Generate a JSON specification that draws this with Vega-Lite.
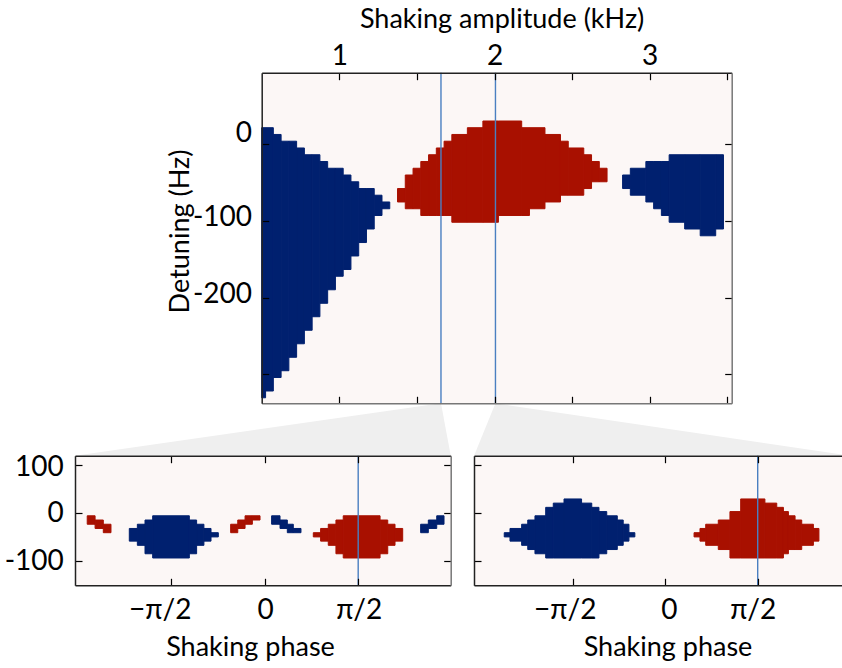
{
  "$schema": "https://vega.github.io/schema/vega-lite/v6.json",
  "width": 842,
  "height": 668,
  "autosize": {"type": "none"},
  "padding": 0,
  "background": "white",
  "config": {
    "view": {"stroke": null},
    "font": "Lato",
    "axis": {
      "grid": false,
      "labelFlush": false,
      "labelOverlap": false,
      "labelFont": "Lato",
      "titleFont": "Lato",
      "labelFontSize": 28,
      "titleFontSize": 27,
      "titleFontWeight": "normal",
      "labelColor": "#000",
      "titleColor": "#000",
      "tickColor": "#000",
      "tickWidth": 1.2,
      "domainWidth": 1.5
    }
  },
  "datasets": {
    "conn": [
      {"t": "a", "x": -0.703, "y": -405.9, "y2": -405.9},
      {"t": "a", "x": 1.655, "y": -337.6, "y2": -405.9},
      {"t": "a", "x": 1.718, "y": -405.9, "y2": -405.9},
      {"t": "b", "x": 1.868, "y": -405.9, "y2": -405.9},
      {"t": "b", "x": 2.006, "y": -337.6, "y2": -405.9},
      {"t": "b", "x": 4.289, "y": -405.9, "y2": -405.9}
    ],
    "main": [
      {"x0": 0.5, "x1": 0.525, "y0": -330.4, "y1": 21.2, "s": "blue"},
      {"x0": 0.525, "x1": 0.575, "y0": -321.6, "y1": 21.2, "s": "blue"},
      {"x0": 0.575, "x1": 0.625, "y0": -304.0, "y1": 12.4, "s": "blue"},
      {"x0": 0.625, "x1": 0.675, "y0": -295.2, "y1": 3.6, "s": "blue"},
      {"x0": 0.675, "x1": 0.725, "y0": -277.7, "y1": 3.6, "s": "blue"},
      {"x0": 0.725, "x1": 0.775, "y0": -260.1, "y1": -5.2, "s": "blue"},
      {"x0": 0.775, "x1": 0.825, "y0": -242.5, "y1": -14.0, "s": "blue"},
      {"x0": 0.825, "x1": 0.875, "y0": -224.9, "y1": -14.0, "s": "blue"},
      {"x0": 0.875, "x1": 0.925, "y0": -207.4, "y1": -22.8, "s": "blue"},
      {"x0": 0.925, "x1": 0.975, "y0": -189.8, "y1": -31.6, "s": "blue"},
      {"x0": 0.975, "x1": 1.025, "y0": -172.2, "y1": -31.6, "s": "blue"},
      {"x0": 1.025, "x1": 1.075, "y0": -163.4, "y1": -40.4, "s": "blue"},
      {"x0": 1.075, "x1": 1.125, "y0": -145.8, "y1": -49.2, "s": "blue"},
      {"x0": 1.125, "x1": 1.175, "y0": -128.3, "y1": -58.0, "s": "blue"},
      {"x0": 1.175, "x1": 1.225, "y0": -110.7, "y1": -58.0, "s": "blue"},
      {"x0": 1.225, "x1": 1.275, "y0": -93.1, "y1": -66.7, "s": "blue"},
      {"x0": 1.275, "x1": 1.325, "y0": -84.3, "y1": -75.5, "s": "blue"},
      {"x0": 1.375, "x1": 1.425, "y0": -75.5, "y1": -58.0, "s": "red"},
      {"x0": 1.425, "x1": 1.475, "y0": -84.3, "y1": -40.4, "s": "red"},
      {"x0": 1.475, "x1": 1.525, "y0": -84.3, "y1": -31.6, "s": "red"},
      {"x0": 1.525, "x1": 1.575, "y0": -93.1, "y1": -22.8, "s": "red"},
      {"x0": 1.575, "x1": 1.625, "y0": -93.1, "y1": -14.0, "s": "red"},
      {"x0": 1.625, "x1": 1.675, "y0": -93.1, "y1": -5.2, "s": "red"},
      {"x0": 1.675, "x1": 1.725, "y0": -93.1, "y1": 3.6, "s": "red"},
      {"x0": 1.725, "x1": 1.825, "y0": -101.9, "y1": 12.4, "s": "red"},
      {"x0": 1.825, "x1": 1.925, "y0": -101.9, "y1": 21.2, "s": "red"},
      {"x0": 1.925, "x1": 2.025, "y0": -101.9, "y1": 29.9, "s": "red"},
      {"x0": 2.025, "x1": 2.175, "y0": -93.1, "y1": 29.9, "s": "red"},
      {"x0": 2.175, "x1": 2.225, "y0": -93.1, "y1": 21.2, "s": "red"},
      {"x0": 2.225, "x1": 2.325, "y0": -84.3, "y1": 21.2, "s": "red"},
      {"x0": 2.325, "x1": 2.425, "y0": -75.5, "y1": 12.4, "s": "red"},
      {"x0": 2.425, "x1": 2.475, "y0": -66.7, "y1": 3.6, "s": "red"},
      {"x0": 2.475, "x1": 2.575, "y0": -66.7, "y1": -5.2, "s": "red"},
      {"x0": 2.575, "x1": 2.625, "y0": -58.0, "y1": -14.0, "s": "red"},
      {"x0": 2.625, "x1": 2.675, "y0": -49.2, "y1": -22.8, "s": "red"},
      {"x0": 2.675, "x1": 2.725, "y0": -49.2, "y1": -31.6, "s": "red"},
      {"x0": 2.825, "x1": 2.875, "y0": -58.0, "y1": -40.4, "s": "blue"},
      {"x0": 2.875, "x1": 2.975, "y0": -66.7, "y1": -31.6, "s": "blue"},
      {"x0": 2.975, "x1": 3.025, "y0": -75.5, "y1": -22.8, "s": "blue"},
      {"x0": 3.025, "x1": 3.075, "y0": -84.3, "y1": -22.8, "s": "blue"},
      {"x0": 3.075, "x1": 3.125, "y0": -93.1, "y1": -22.8, "s": "blue"},
      {"x0": 3.125, "x1": 3.225, "y0": -101.9, "y1": -14.0, "s": "blue"},
      {"x0": 3.225, "x1": 3.325, "y0": -110.7, "y1": -14.0, "s": "blue"},
      {"x0": 3.325, "x1": 3.425, "y0": -119.5, "y1": -14.0, "s": "blue"},
      {"x0": 3.425, "x1": 3.475, "y0": -110.7, "y1": -14.0, "s": "blue"}
    ],
    "lo": [
      {"x0": -0.724, "x1": -0.681, "y0": -58.0, "y1": -31.6, "s": "blue"},
      {"x0": -0.681, "x1": -0.640, "y0": -66.7, "y1": -22.8, "s": "blue"},
      {"x0": -0.640, "x1": -0.599, "y0": -84.3, "y1": -14.0, "s": "blue"},
      {"x0": -0.599, "x1": -0.403, "y0": -93.1, "y1": -5.2, "s": "blue"},
      {"x0": -0.403, "x1": -0.364, "y0": -84.3, "y1": -14.0, "s": "blue"},
      {"x0": -0.364, "x1": -0.325, "y0": -66.7, "y1": -22.8, "s": "blue"},
      {"x0": -0.325, "x1": -0.287, "y0": -58.0, "y1": -31.6, "s": "blue"},
      {"x0": -0.287, "x1": -0.248, "y0": -49.2, "y1": -40.4, "s": "blue"},
      {"x0": 0.260, "x1": 0.299, "y0": -49.2, "y1": -40.4, "s": "red"},
      {"x0": 0.299, "x1": 0.340, "y0": -58.0, "y1": -31.6, "s": "red"},
      {"x0": 0.340, "x1": 0.381, "y0": -66.7, "y1": -22.8, "s": "red"},
      {"x0": 0.381, "x1": 0.420, "y0": -84.3, "y1": -14.0, "s": "red"},
      {"x0": 0.420, "x1": 0.617, "y0": -93.1, "y1": -5.2, "s": "red"},
      {"x0": 0.617, "x1": 0.658, "y0": -84.3, "y1": -14.0, "s": "red"},
      {"x0": 0.658, "x1": 0.697, "y0": -66.7, "y1": -22.8, "s": "red"},
      {"x0": 0.697, "x1": 0.738, "y0": -58.0, "y1": -31.6, "s": "red"},
      {"x0": -0.949, "x1": -0.907, "y0": -22.8, "y1": -5.2, "s": "red"},
      {"x0": -0.907, "x1": -0.863, "y0": -31.6, "y1": -14.0, "s": "red"},
      {"x0": -0.863, "x1": -0.822, "y0": -40.4, "y1": -22.8, "s": "red"},
      {"x0": -0.182, "x1": -0.144, "y0": -40.4, "y1": -22.8, "s": "red"},
      {"x0": -0.144, "x1": -0.105, "y0": -31.6, "y1": -14.0, "s": "red"},
      {"x0": -0.105, "x1": -0.066, "y0": -22.8, "y1": -5.2, "s": "red"},
      {"x0": -0.066, "x1": -0.025, "y0": -14.0, "y1": -5.2, "s": "red"},
      {"x0": 0.037, "x1": 0.082, "y0": -22.8, "y1": -5.2, "s": "blue"},
      {"x0": 0.082, "x1": 0.121, "y0": -31.6, "y1": -14.0, "s": "blue"},
      {"x0": 0.121, "x1": 0.153, "y0": -40.4, "y1": -22.8, "s": "blue"},
      {"x0": 0.153, "x1": 0.194, "y0": -40.4, "y1": -31.6, "s": "blue"},
      {"x0": 0.834, "x1": 0.875, "y0": -40.4, "y1": -22.8, "s": "blue"},
      {"x0": 0.875, "x1": 0.920, "y0": -31.6, "y1": -14.0, "s": "blue"},
      {"x0": 0.920, "x1": 0.959, "y0": -22.8, "y1": -5.2, "s": "blue"}
    ],
    "hi": [
      {"x0": -0.870, "x1": -0.839, "y0": -49.2, "y1": -40.4, "s": "blue"},
      {"x0": -0.839, "x1": -0.776, "y0": -58.0, "y1": -31.6, "s": "blue"},
      {"x0": -0.776, "x1": -0.743, "y0": -66.7, "y1": -22.8, "s": "blue"},
      {"x0": -0.743, "x1": -0.704, "y0": -75.5, "y1": -14.0, "s": "blue"},
      {"x0": -0.704, "x1": -0.646, "y0": -84.3, "y1": -5.2, "s": "blue"},
      {"x0": -0.646, "x1": -0.605, "y0": -93.1, "y1": 12.4, "s": "blue"},
      {"x0": -0.605, "x1": -0.547, "y0": -93.1, "y1": 21.2, "s": "blue"},
      {"x0": -0.547, "x1": -0.452, "y0": -93.1, "y1": 29.9, "s": "blue"},
      {"x0": -0.452, "x1": -0.397, "y0": -93.1, "y1": 21.2, "s": "blue"},
      {"x0": -0.397, "x1": -0.358, "y0": -93.1, "y1": 12.4, "s": "blue"},
      {"x0": -0.358, "x1": -0.316, "y0": -84.3, "y1": 3.6, "s": "blue"},
      {"x0": -0.316, "x1": -0.259, "y0": -75.5, "y1": -5.2, "s": "blue"},
      {"x0": -0.259, "x1": -0.227, "y0": -66.7, "y1": -14.0, "s": "blue"},
      {"x0": -0.227, "x1": -0.196, "y0": -58.0, "y1": -22.8, "s": "blue"},
      {"x0": -0.196, "x1": -0.164, "y0": -49.2, "y1": -40.4, "s": "blue"},
      {"x0": 0.156, "x1": 0.188, "y0": -49.2, "y1": -40.4, "s": "red"},
      {"x0": 0.188, "x1": 0.219, "y0": -58.0, "y1": -31.6, "s": "red"},
      {"x0": 0.219, "x1": 0.287, "y0": -66.7, "y1": -22.8, "s": "red"},
      {"x0": 0.287, "x1": 0.350, "y0": -75.5, "y1": -14.0, "s": "red"},
      {"x0": 0.350, "x1": 0.408, "y0": -93.1, "y1": 3.6, "s": "red"},
      {"x0": 0.408, "x1": 0.539, "y0": -93.1, "y1": 29.9, "s": "red"},
      {"x0": 0.539, "x1": 0.603, "y0": -93.1, "y1": 21.2, "s": "red"},
      {"x0": 0.603, "x1": 0.639, "y0": -93.1, "y1": 12.4, "s": "red"},
      {"x0": 0.639, "x1": 0.666, "y0": -84.3, "y1": 3.6, "s": "red"},
      {"x0": 0.666, "x1": 0.702, "y0": -75.5, "y1": -5.2, "s": "red"},
      {"x0": 0.702, "x1": 0.738, "y0": -75.5, "y1": -14.0, "s": "red"},
      {"x0": 0.738, "x1": 0.801, "y0": -66.7, "y1": -22.8, "s": "red"},
      {"x0": 0.801, "x1": 0.831, "y0": -58.0, "y1": -31.6, "s": "red"}
    ]
  },
  "layer": [
    {
      "layer": [
        {
          "data": {"name": "conn"},
          "mark": {"type": "area", "color": "#efefef"},
          "encoding": {
            "x": {"field": "x", "type": "quantitative", "scale": {"domain": [0.5, 3.528], "range": [261.7, 731.7], "nice": false, "zero": false}, "axis": null},
            "y": {"field": "y", "type": "quantitative", "stack": null, "scale": {"domain": [-337.6, 92.8], "range": [403.3, 72.7], "nice": false, "zero": false}, "axis": null},
            "y2": {"field": "y2"},
            "detail": {"field": "t", "type": "nominal"}
          }
        },
        {
          "data": {"values": [{}]},
          "mark": {"type": "rect", "color": "#fcf7f6"},
          "encoding": {
            "x": {"datum": 0.5, "type": "quantitative", "scale": {"domain": [0.5, 3.528], "range": [261.7, 731.7], "nice": false, "zero": false},
              "axis": {"orient": "top", "offset": -72.7, "values": [1, 1.5, 2, 2.5, 3, 3.5], "labelExpr": "datum.value % 1 == 0 ? format(datum.value, 'd') : ''", "tickSize": -7, "labelPadding": 15.2, "labelBaseline": "alphabetic", "title": "Shaking amplitude (kHz)", "titleX": 501.6, "titleY": -45.2, "titleBaseline": "alphabetic", "domainColor": "#222", "zindex": 1}},
            "x2": {"datum": 3.528},
            "y": {"datum": -337.6, "type": "quantitative", "scale": {"domain": [-337.6, 92.8], "range": [403.3, 72.7], "nice": false, "zero": false},
              "axis": {"orient": "left", "offset": -261.7, "values": [0, -100, -200, -300], "labelExpr": "datum.value == -300 ? '' : (datum.value < 0 ? '-' + abs(datum.value) : '0')", "tickSize": -7, "labelPadding": 17.2, "labelBaseline": "middle", "labelOffset": {"condition": {"test": "datum.value == 0", "value": -10}, "value": -3.5}, "title": "Detuning (Hz)", "titleAngle": -90, "titleX": -81.7, "titleY": 231, "titleBaseline": "middle", "titleAlign": "center", "domainColor": "#222", "zindex": 1}},
            "y2": {"datum": 92.8}
          }
        },
        {
          "data": {"name": "main"},
          "mark": {"type": "rect", "strokeWidth": 1},
          "encoding": {
            "x": {"field": "x0", "type": "quantitative", "scale": {"domain": [0.5, 3.528], "range": [261.7, 731.7], "nice": false, "zero": false}, "axis": null},
            "x2": {"field": "x1"},
            "y": {"field": "y0", "type": "quantitative", "scale": {"domain": [-337.6, 92.8], "range": [403.3, 72.7], "nice": false, "zero": false}, "axis": null},
            "y2": {"field": "y1"},
            "color": {"field": "s", "type": "nominal", "scale": {"domain": ["blue", "red"], "range": ["#00206f", "#a81000"]}, "legend": null},
            "stroke": {"field": "s", "type": "nominal", "scale": {"domain": ["blue", "red"], "range": ["#00206f", "#a81000"]}, "legend": null}
          }
        },
        {
          "data": {"values": [{"a": 1.655}, {"a": 2.006}]},
          "mark": {"type": "rule", "color": "#4a7fc1", "strokeWidth": 1.4},
          "encoding": {
            "x": {"field": "a", "type": "quantitative", "scale": {"domain": [0.5, 3.528], "range": [261.7, 731.7], "nice": false, "zero": false},
              "axis": {"orient": "bottom", "offset": -264.7, "values": [1, 1.5, 2, 2.5, 3, 3.5], "labels": false, "tickSize": -7, "title": null, "domainColor": "#777", "zindex": 1}},
            "y": {"datum": -337.6, "type": "quantitative", "scale": {"domain": [-337.6, 92.8], "range": [403.3, 72.7], "nice": false, "zero": false},
              "axis": {"orient": "right", "offset": -110.3, "values": [0, -100, -200, -300], "labels": false, "tickSize": -7, "title": null, "domainColor": "#777", "zindex": 1}},
            "y2": {"datum": 92.8}
          }
        }
      ],
      "resolve": {"axis": {"x": "independent", "y": "independent"}}
    },
    {
      "layer": [
        {
          "data": {"values": [{}]},
          "mark": {"type": "rect", "color": "#fcf7f6"},
          "encoding": {
            "x": {"datum": -1.0144, "type": "quantitative", "scale": {"domain": [-1.0144, 0.9947], "range": [75, 450.7], "nice": false, "zero": false},
              "axis": {"orient": "bottom", "offset": -82.7, "values": [-0.5, 0, 0.5], "labelExpr": "datum.value < 0 ? '−π/2' : (datum.value > 0 ? 'π/2' : '0')", "tickSize": -7, "labelPadding": 39.7, "labelBaseline": "alphabetic", "labelOffset": {"condition": {"test": "datum.value < 0", "value": -11.5}, "value": 0.5}, "title": "Shaking phase", "titleX": 250, "titleY": 69.7, "titleBaseline": "alphabetic", "domainColor": "#222", "zindex": 1}},
            "x2": {"datum": 0.9947},
            "y": {"datum": -150, "type": "quantitative", "scale": {"domain": [-150, 120], "range": [585.3, 455.7], "nice": false, "zero": false},
              "axis": {"orient": "left", "offset": -75, "values": [100, 0, -100], "labelExpr": "datum.value < 0 ? '-' + abs(datum.value) : datum.label", "tickSize": -7, "labelPadding": 18.7, "labelBaseline": "middle", "labelOffset": {"condition": {"test": "datum.value > 50", "value": 2.5}, "value": 0.5}, "title": null, "domainColor": "#222", "zindex": 1}},
            "y2": {"datum": 120}
          }
        },
        {
          "data": {"name": "lo"},
          "mark": {"type": "rect", "strokeWidth": 1},
          "encoding": {
            "x": {"field": "x0", "type": "quantitative", "scale": {"domain": [-1.0144, 0.9947], "range": [75, 450.7], "nice": false, "zero": false}, "axis": null},
            "x2": {"field": "x1"},
            "y": {"field": "y0", "type": "quantitative", "scale": {"domain": [-150, 120], "range": [585.3, 455.7], "nice": false, "zero": false}, "axis": null},
            "y2": {"field": "y1"},
            "color": {"field": "s", "type": "nominal", "scale": {"domain": ["blue", "red"], "range": ["#00206f", "#a81000"]}, "legend": null},
            "stroke": {"field": "s", "type": "nominal", "scale": {"domain": ["blue", "red"], "range": ["#00206f", "#a81000"]}, "legend": null}
          }
        },
        {
          "data": {"values": [{"p": 0.5}]},
          "mark": {"type": "rule", "color": "#4a7fc1", "strokeWidth": 1.4},
          "encoding": {
            "x": {"field": "p", "type": "quantitative", "scale": {"domain": [-1.0144, 0.9947], "range": [75, 450.7], "nice": false, "zero": false},
              "axis": {"orient": "top", "offset": -455.7, "values": [-0.5, 0, 0.5], "labels": false, "tickSize": -7, "title": null, "domainColor": "#222", "zindex": 1}},
            "y": {"datum": -150, "type": "quantitative", "scale": {"domain": [-150, 120], "range": [585.3, 455.7], "nice": false, "zero": false},
              "axis": {"orient": "right", "offset": -391.3, "values": [100, 0, -100], "labels": false, "tickSize": -7, "title": null, "domainColor": "#777", "zindex": 1}},
            "y2": {"datum": 120}
          }
        }
      ],
      "resolve": {"axis": {"x": "independent", "y": "independent"}}
    },
    {
      "layer": [
        {
          "data": {"values": [{}]},
          "mark": {"type": "rect", "color": "#fcf7f6"},
          "encoding": {
            "x": {"datum": -1.0335, "type": "quantitative", "scale": {"domain": [-1.0335, 0.9973], "range": [474, 849.7], "nice": false, "zero": false},
              "axis": {"orient": "bottom", "offset": -82.7, "values": [-0.5, 0, 0.5], "labelExpr": "datum.value < 0 ? '−π/2' : (datum.value > 0 ? 'π/2' : '0')", "tickSize": -7, "labelPadding": 39.7, "labelBaseline": "alphabetic", "labelOffset": {"condition": [{"test": "datum.value < 0", "value": -8}, {"test": "datum.value > 0", "value": -5}], "value": 3.8}, "title": "Shaking phase", "titleX": 667.5, "titleY": 69.7, "titleBaseline": "alphabetic", "domainColor": "#222", "zindex": 1}},
            "x2": {"datum": 0.9973},
            "y": {"datum": -150, "type": "quantitative", "scale": {"domain": [-150, 120], "range": [585.3, 455.7], "nice": false, "zero": false},
              "axis": {"orient": "left", "offset": -474, "values": [100, 0, -100], "labels": false, "tickSize": -7, "title": null, "domainColor": "#222", "zindex": 1}},
            "y2": {"datum": 120}
          }
        },
        {
          "data": {"name": "hi"},
          "mark": {"type": "rect", "strokeWidth": 1},
          "encoding": {
            "x": {"field": "x0", "type": "quantitative", "scale": {"domain": [-1.0335, 0.9973], "range": [474, 849.7], "nice": false, "zero": false}, "axis": null},
            "x2": {"field": "x1"},
            "y": {"field": "y0", "type": "quantitative", "scale": {"domain": [-150, 120], "range": [585.3, 455.7], "nice": false, "zero": false}, "axis": null},
            "y2": {"field": "y1"},
            "color": {"field": "s", "type": "nominal", "scale": {"domain": ["blue", "red"], "range": ["#00206f", "#a81000"]}, "legend": null},
            "stroke": {"field": "s", "type": "nominal", "scale": {"domain": ["blue", "red"], "range": ["#00206f", "#a81000"]}, "legend": null}
          }
        },
        {
          "data": {"values": [{"p": 0.5}]},
          "mark": {"type": "rule", "color": "#4a7fc1", "strokeWidth": 1.4},
          "encoding": {
            "x": {"field": "p", "type": "quantitative", "scale": {"domain": [-1.0335, 0.9973], "range": [474, 849.7], "nice": false, "zero": false},
              "axis": {"orient": "top", "offset": -455.7, "values": [-0.5, 0, 0.5], "labels": false, "tickSize": -7, "title": null, "domainColor": "#222", "zindex": 1}},
            "y": {"datum": -150, "type": "quantitative", "scale": {"domain": [-150, 120], "range": [585.3, 455.7], "nice": false, "zero": false}, "axis": null},
            "y2": {"datum": 120}
          }
        }
      ],
      "resolve": {"axis": {"x": "independent", "y": "independent"}}
    }
  ],
  "resolve": {"scale": {"x": "independent", "y": "independent"}, "axis": {"x": "independent", "y": "independent"}}
}
